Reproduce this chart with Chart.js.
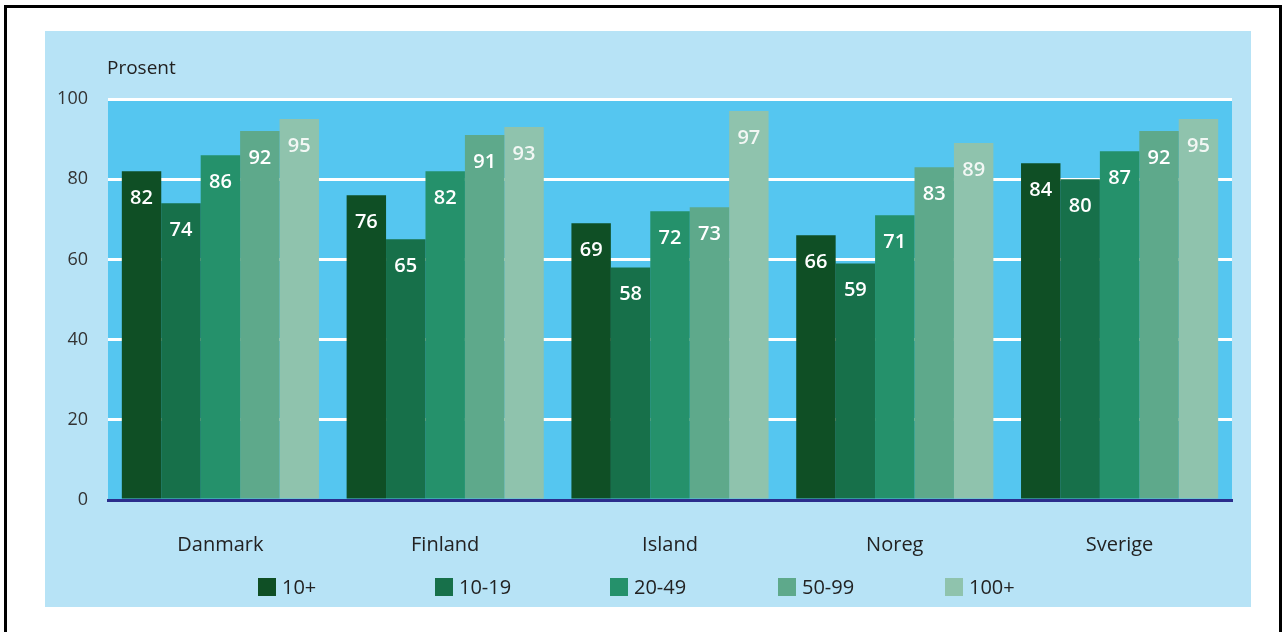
<!DOCTYPE html>
<html>
<head>
<meta charset="utf-8">
<script src="https://cdn.jsdelivr.net/npm/chart.js@4"></script>
<style>
html,body{margin:0;padding:0;background:#fff;}
#wrap{width:1287px;height:632px;position:relative;}
</style>
</head>
<body>
<div id="wrap"><canvas id="c" width="1287" height="632"></canvas></div>
<script>
const categories = ["Danmark", "Finland", "Island", "Noreg", "Sverige"];
const seriesNames = ["10+", "10-19", "20-49", "50-99", "100+"];
const s10plus = [82, 76, 69, 66, 84];
const s10_19 = [74, 65, 58, 59, 80];
const s20_49 = [86, 82, 72, 71, 87];
const s50_99 = [92, 91, 73, 83, 92];
const s100plus = [95, 93, 97, 89, 95];
const yTicks = [0, 20, 40, 60, 80, 100];
const yAxisTitle = "Prosent";

const seriesValues = [s10plus, s10_19, s20_49, s50_99, s100plus];
const seriesColors = ["#0f4f25", "#17704a", "#25916b", "#5ea98b", "#8fc3ad"];
const FONT = "'Open Sans', 'Noto Sans', sans-serif";

const bgPlugin = {
  id: 'bg',
  beforeDraw(chart) {
    const ctx = chart.ctx, a = chart.chartArea;
    ctx.save();
    ctx.fillStyle = '#ffffff';
    ctx.fillRect(0, 0, chart.width, chart.height);
    ctx.fillStyle = '#b7e3f6';
    ctx.fillRect(45, 31, 1206, 576);
    ctx.fillStyle = '#55c6f0';
    ctx.fillRect(a.left, a.top, a.right - a.left, a.bottom - a.top);
    ctx.strokeStyle = '#000';
    ctx.lineWidth = 3;
    ctx.strokeRect(5.5, 6.5, 1275, 700);
    ctx.fillStyle = '#222';
    ctx.font = "19px " + FONT;
    ctx.textAlign = 'left';
    ctx.textBaseline = 'middle';
    ctx.fillText(yAxisTitle, 107, 69);
    ctx.restore();
  },
  afterDatasetsDraw(chart) {
    const ctx = chart.ctx;
    ctx.save();
    ctx.font = "600 20px " + FONT;
    ctx.textAlign = 'center';
    ctx.textBaseline = 'middle';
    chart.data.datasets.forEach((ds, i) => {
      const meta = chart.getDatasetMeta(i);
      ctx.fillStyle = i === 4 ? '#f2f7f4' : '#ffffff';
      meta.data.forEach((bar, j) => {
        ctx.fillText(String(ds.data[j]), bar.x, bar.y + 27);
      });
    });
    ctx.restore();
  },
  afterDraw(chart) {
    const ctx = chart.ctx;
    const xs = [258, 435, 610, 778, 945];
    ctx.save();
    ctx.font = "20px " + FONT;
    ctx.textAlign = 'left';
    ctx.textBaseline = 'middle';
    seriesNames.forEach((n, i) => {
      ctx.fillStyle = seriesColors[i];
      ctx.fillRect(xs[i], 578, 18, 18);
      ctx.fillStyle = '#222';
      ctx.fillText(n, xs[i] + 24, 588);
    });
    ctx.restore();
  }
};

new Chart(document.getElementById('c'), {
  type: 'bar',
  data: {
    labels: categories,
    datasets: seriesNames.map((n, i) => ({
      label: n,
      data: seriesValues[i],
      backgroundColor: seriesColors[i],
      borderWidth: 0,
      categoryPercentage: 0.877,
      barPercentage: 1.0
    }))
  },
  options: {
    responsive: false,
    animation: false,
    devicePixelRatio: 1,
    layout: { padding: { left: 40, right: 55, top: 99, bottom: 0 } },
    plugins: { legend: { display: false }, tooltip: { enabled: false } },
    scales: {
      x: {
        grid: { display: false },
        border: { display: true, color: '#2b2e8c', width: 3, z: 1 },
        ticks: { color: '#222', font: { family: FONT, size: 20 }, padding: 25 },
        afterFit(s) { s.height = 132; }
      },
      y: {
        min: 0, max: 100,
        afterBuildTicks(s) { s.ticks = yTicks.map(v => ({ value: v })); },
        grid: {
          color: ctx => ctx.tick && ctx.tick.value === 0 ? 'rgba(0,0,0,0)' : '#ffffff',
          lineWidth: 3,
          drawTicks: false
        },
        border: { display: false },
        ticks: { color: '#333', font: { family: FONT, size: 18 }, padding: 20 },
        afterFit(s) { s.width = 68; }
      }
    }
  },
  plugins: [bgPlugin]
});
</script>
</body>
</html>
